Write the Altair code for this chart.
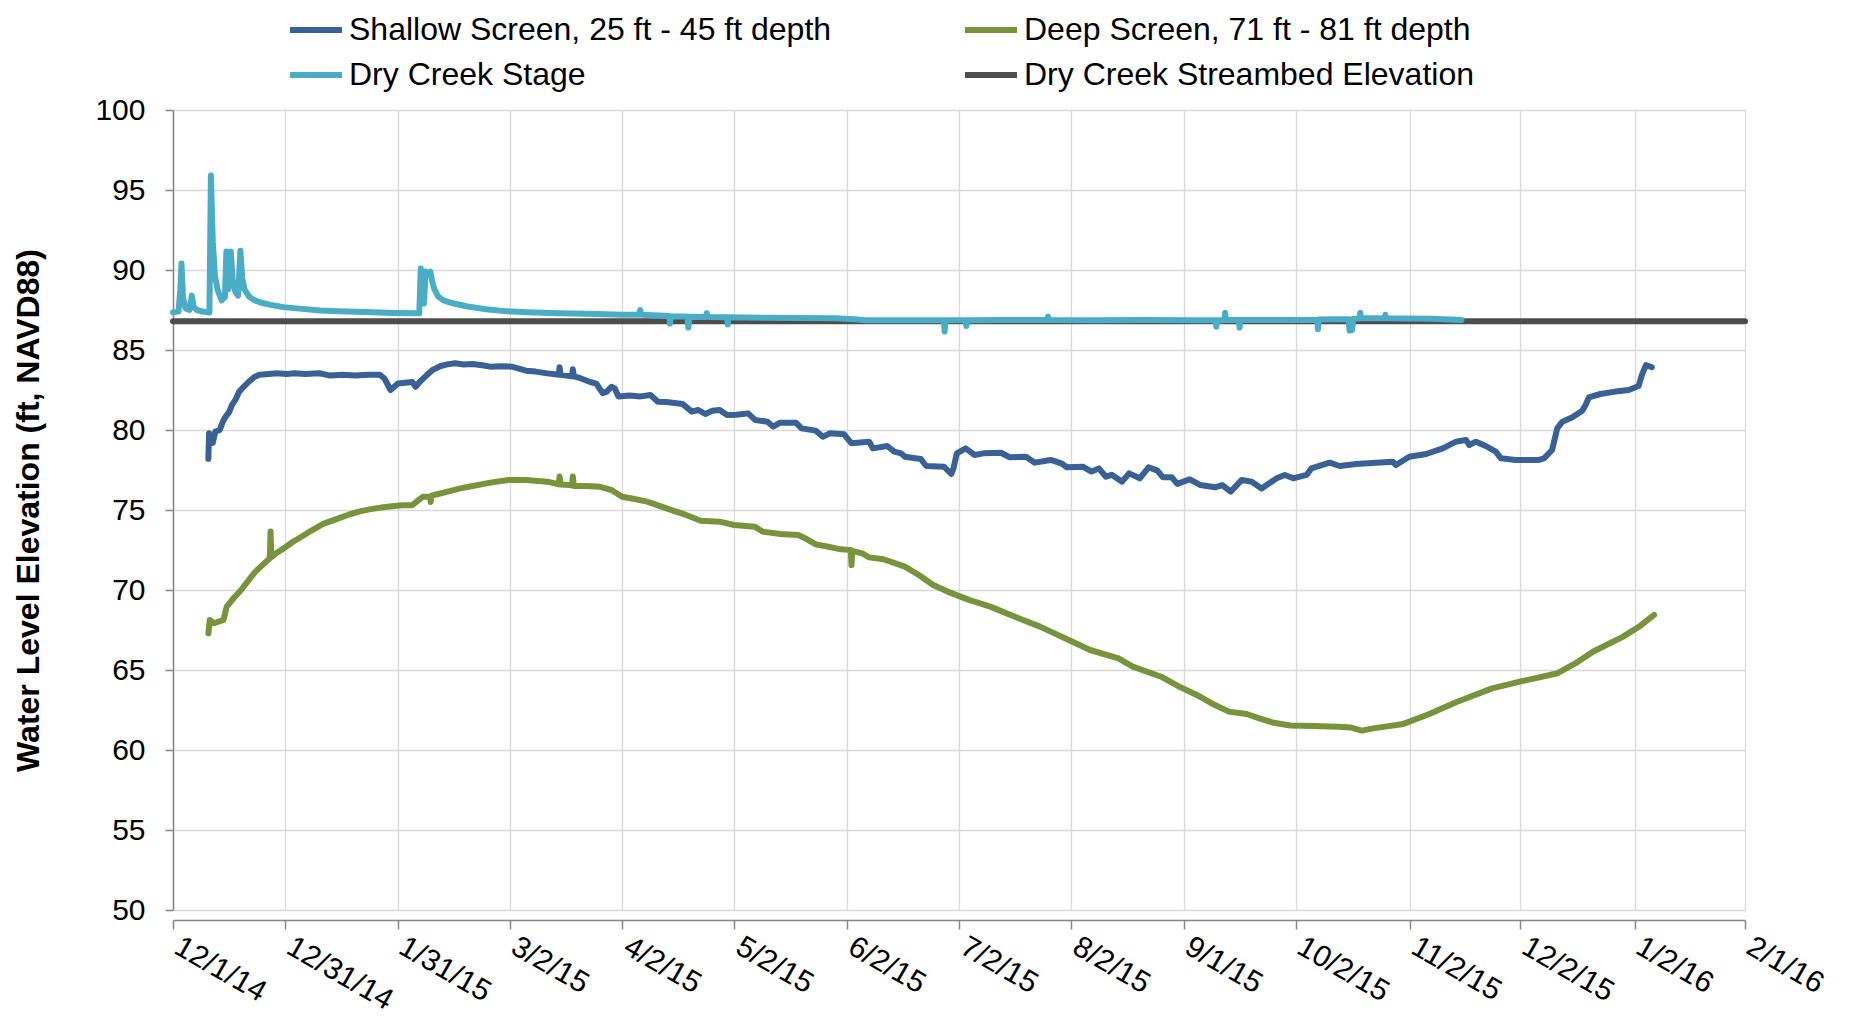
import altair as alt
import pandas as pd

# ---------------- data ----------------
START_DATE = "2014-12-01"

SERIES = [
    "Shallow Screen, 25 ft - 45 ft depth",
    "Deep Screen, 71 ft - 81 ft depth",
    "Dry Creek Stage",
    "Dry Creek Streambed Elevation",
]

# (days since 12/1/14, water level elevation ft NAVD88)
shallow_readings = [
    (9.6, 78.2), (9.8, 79.8), (10.3, 79.3), (10.8, 79.2), (11.5, 79.9), (12.7, 80.0),
    (13.5, 80.5), (14.2, 80.8), (15.2, 81.1), (16.1, 81.6), (17.0, 81.9), (18.0, 82.4),
    (19.2, 82.7), (20.5, 83.0), (22.0, 83.3), (23.4, 83.45), (26.0, 83.5), (28.2, 83.55),
    (31.0, 83.5), (33.0, 83.55), (36.0, 83.5), (39.8, 83.55), (42.7, 83.4), (46.0, 83.45),
    (49.5, 83.4), (53.0, 83.45), (56.2, 83.45), (57.5, 83.2), (59.1, 82.5), (61.1, 82.9),
    (63.0, 82.95), (65.0, 83.0), (65.9, 82.7), (67.0, 83.0), (68.8, 83.4), (70.5, 83.75),
    (72.7, 84.0), (74.5, 84.1), (76.6, 84.17), (79.0, 84.1), (81.4, 84.13), (84.0, 84.05),
    (86.2, 83.96), (89.0, 83.98), (92.0, 83.96), (95.9, 83.71), (98.5, 83.65), (101.7, 83.54),
    (104.8, 83.45), (105.0, 83.92), (105.3, 83.45), (108.4, 83.35), (108.6, 83.8), (108.9, 83.35),
    (110.5, 83.25), (113.3, 83.0), (115.0, 82.9), (116.7, 82.3), (117.8, 82.4), (119.1, 82.7),
    (120.0, 82.6), (121.0, 82.1), (124.0, 82.15), (127.0, 82.1), (129.7, 82.19), (131.7, 81.77),
    (134.0, 81.75), (138.4, 81.63), (140.9, 81.15), (142.7, 81.25), (144.6, 81.0), (146.5, 81.2),
    (148.5, 81.25), (150.5, 80.94), (153.0, 80.95), (156.2, 81.04), (158.1, 80.63), (161.5, 80.52),
    (163.0, 80.21), (164.9, 80.46), (169.2, 80.46), (170.7, 80.1), (174.6, 79.96), (176.5, 79.58),
    (178.4, 79.79), (182.3, 79.73), (184.3, 79.17), (189.1, 79.27), (190.1, 78.85), (194.0, 79.0),
    (195.9, 78.65), (197.8, 78.54), (198.8, 78.33), (203.1, 78.19), (204.6, 77.75), (209.4, 77.71),
    (211.4, 77.25), (212.0, 77.6), (212.9, 78.54), (215.3, 78.85), (217.7, 78.44), (220.1, 78.54),
    (224.9, 78.58), (227.3, 78.29), (231.7, 78.33), (234.1, 77.96), (238.4, 78.13), (241.3, 77.92),
    (242.8, 77.67), (247.1, 77.71), (249.5, 77.4), (251.5, 77.6), (253.4, 77.08), (255.0, 77.2),
    (257.8, 76.77), (259.7, 77.29), (262.6, 76.98), (265.0, 77.67), (267.4, 77.46), (268.9, 77.04),
    (271.3, 77.04), (272.8, 76.63), (276.2, 76.92), (279.1, 76.56), (283.0, 76.42), (285.0, 76.56),
    (287.3, 76.15), (290.3, 76.88), (293.0, 76.77), (295.7, 76.35), (299.8, 76.98), (302.0, 77.19),
    (304.3, 76.98), (307.9, 77.19), (309.2, 77.6), (314.2, 77.96), (316.9, 77.75), (321.4, 77.88),
    (326.8, 77.96), (331.3, 78.02), (332.2, 77.81), (335.8, 78.33), (340.4, 78.5), (344.9, 78.85),
    (348.5, 79.27), (351.2, 79.38), (352.1, 79.06), (353.9, 79.27), (356.6, 79.0), (359.3, 78.65),
    (360.7, 78.23), (364.7, 78.13), (371.0, 78.13), (372.4, 78.23), (374.6, 78.75), (376.0, 80.1),
    (377.4, 80.52), (380.1, 80.79), (382.8, 81.21), (383.7, 81.56), (384.6, 82.04), (387.7, 82.25),
    (391.8, 82.4), (395.4, 82.5), (398.1, 82.75), (399.0, 83.44), (400.1, 84.06), (401.7, 83.92),
]

deep_readings = [
    (9.6, 67.29), (10.0, 68.13), (11.2, 67.92), (13.7, 68.13), (14.6, 68.96), (16.5, 69.5),
    (18.5, 70.0), (20.5, 70.6), (22.4, 71.15), (24.5, 71.6), (26.3, 71.98), (26.5, 73.65),
    (26.7, 72.05), (28.0, 72.3), (30.1, 72.6), (32.5, 73.0), (34.9, 73.33), (37.5, 73.7),
    (40.8, 74.13), (44.0, 74.4), (47.5, 74.69), (50.5, 74.9), (53.3, 75.04), (56.5, 75.15),
    (60.1, 75.25), (62.5, 75.3), (65.0, 75.3), (67.9, 75.83), (69.8, 75.85), (70.0, 75.5),
    (70.2, 75.9), (72.0, 76.0), (74.6, 76.15), (78.0, 76.35), (81.4, 76.5), (86.2, 76.71),
    (91.1, 76.88), (95.9, 76.88), (101.7, 76.77), (104.8, 76.6), (105.0, 77.1), (105.3, 76.6),
    (108.4, 76.55), (108.6, 77.1), (108.9, 76.5), (112.3, 76.5), (116.0, 76.45), (119.1, 76.25),
    (122.0, 75.83), (125.0, 75.7), (128.8, 75.52), (132.7, 75.21), (136.0, 74.95), (139.4, 74.69),
    (143.3, 74.33), (148.5, 74.27), (152.4, 74.06), (158.1, 73.96), (160.1, 73.65), (165.0, 73.5),
    (169.8, 73.44), (172.0, 73.2), (174.6, 72.85), (178.0, 72.7), (181.4, 72.54), (184.1, 72.5),
    (184.3, 71.56), (184.5, 72.45), (187.2, 72.29), (189.1, 72.04), (193.0, 71.92), (198.8, 71.46),
    (202.6, 70.94), (206.5, 70.31), (210.4, 69.9), (216.2, 69.38), (222.0, 68.96), (229.7, 68.23),
    (235.5, 67.71), (243.3, 66.88), (249.1, 66.25), (256.8, 65.73), (260.7, 65.21), (268.4, 64.58),
    (273.3, 63.96), (278.1, 63.44), (283.0, 62.81), (286.8, 62.4), (291.6, 62.25), (295.5, 61.95),
    (299.0, 61.7), (303.5, 61.53), (310.0, 61.5), (316.4, 61.46), (320.0, 61.4), (322.9, 61.21),
    (326.0, 61.35), (329.3, 61.46), (334.2, 61.63), (340.6, 62.19), (348.7, 63.0), (358.3, 63.85),
    (366.4, 64.3), (376.1, 64.8), (380.9, 65.41), (385.8, 66.16), (393.8, 67.07), (398.6, 67.77),
    (402.3, 68.44),
]

stage_readings = [
    (0.0, 87.35), (1.5, 87.4), (2.0, 88.8), (2.3, 90.4), (2.7, 88.3), (3.4, 87.6),
    (4.5, 87.5), (5.1, 88.4), (5.6, 87.7), (6.5, 87.5), (8.0, 87.4), (9.9, 87.35),
    (10.3, 95.9), (10.8, 91.8), (11.4, 89.6), (12.2, 88.7), (13.2, 88.1), (14.1, 88.3),
    (14.5, 91.15), (15.0, 88.8), (15.7, 91.15), (16.2, 89.4), (16.9, 88.65), (17.7, 88.4),
    (18.3, 91.2), (18.8, 89.5), (19.4, 88.8), (20.6, 88.35), (22.2, 88.1), (24.0, 87.95),
    (26.5, 87.82), (30.0, 87.68), (35.0, 87.57), (40.0, 87.47), (45.0, 87.42), (52.0, 87.37),
    (60.0, 87.32), (66.9, 87.3), (67.3, 90.1), (67.7, 89.0), (68.2, 87.9), (68.6, 89.9),
    (69.3, 89.75), (69.9, 89.9), (70.5, 89.2), (71.0, 88.8), (72.0, 88.35), (73.5, 88.1),
    (76.0, 87.92), (80.0, 87.72), (85.0, 87.55), (90.0, 87.43), (96.0, 87.36), (105.0, 87.3),
    (115.0, 87.25), (122.0, 87.2), (126.6, 87.2), (126.9, 87.5), (127.2, 87.2), (132.0, 87.15),
    (134.8, 87.12), (135.0, 86.65), (135.2, 87.1), (139.7, 87.1), (140.0, 86.4), (140.3, 87.08),
    (144.7, 87.07), (145.0, 87.3), (145.3, 87.06), (150.5, 87.05), (150.7, 86.6), (150.9, 87.04),
    (160.0, 87.02), (170.0, 87.0), (180.0, 86.98), (185.0, 86.92), (188.0, 86.86), (195.0, 86.86),
    (205.0, 86.86), (209.4, 86.86), (209.6, 86.15), (209.8, 86.86), (215.3, 86.86), (215.5, 86.5),
    (215.7, 86.86), (225.0, 86.87), (237.5, 86.87), (237.7, 87.08), (237.9, 86.87), (250.0, 86.86),
    (265.0, 86.87), (275.0, 86.86), (283.2, 86.86), (283.4, 86.45), (283.6, 86.86), (285.6, 86.86),
    (285.8, 87.33), (286.0, 86.87), (289.5, 86.87), (289.7, 86.4), (289.9, 86.87), (300.0, 86.87),
    (310.8, 86.88), (311.0, 86.3), (311.2, 86.9), (316.0, 86.92), (319.3, 86.92), (319.6, 86.2),
    (319.9, 86.9), (320.3, 86.25), (320.6, 86.95), (322.3, 86.97), (322.5, 87.33), (322.7, 86.98),
    (326.0, 86.98), (329.1, 86.98), (329.3, 87.2), (329.5, 86.98), (335.0, 86.97), (342.0, 86.95),
    (350.0, 86.88),
]

streambed_readings = [(0.0, 86.8), (427.0, 86.8)]

x_tick_dates = [
    "2014-12-01 00:00", "2014-12-31 12:00", "2015-01-31 00:00", "2015-03-02 12:00",
    "2015-04-02 00:00", "2015-05-02 12:00", "2015-06-02 00:00", "2015-07-02 12:00",
    "2015-08-02 00:00", "2015-09-01 12:00", "2015-10-02 00:00", "2015-11-02 00:00",
    "2015-12-02 00:00", "2016-01-02 00:00", "2016-02-01 00:00",
]
y_ticks = [50, 55, 60, 65, 70, 75, 80, 85, 90, 95, 100]

# ---------------- styles ----------------
COLORS = ["#3A6195", "#77933C", "#4BACC6", "#4D4D4D"]
LINE_WIDTHS = [6, 6, 6.5, 9.5]
FONT = "Liberation Sans"
AXIS_GRAY = "#868686"
GRID_GRAY = "#D9D9D9"

# ---------------- build table ----------------
frames = []
for name, readings in zip(SERIES, [shallow_readings, deep_readings, stage_readings, streambed_readings]):
    f = pd.DataFrame(readings, columns=["day", "value"])
    f["date"] = pd.Timestamp(START_DATE) + pd.to_timedelta(f["day"], unit="D")
    f["series"] = name
    frames.append(f[["date", "value", "series"]])
df = pd.concat(frames, ignore_index=True)


def to_dt(s):
    t = pd.Timestamp(s)
    return alt.DateTime(year=t.year, month=t.month, date=t.day, hours=t.hour)


x_values = [to_dt(s) for s in x_tick_dates]

x_enc = alt.X(
    "date:T",
    scale=alt.Scale(domain=[x_values[0], x_values[-1]], nice=False),
    axis=alt.Axis(
        values=x_values, format="%-m/%-d/%y", title=None,
        labelAngle=30, labelAlign="left", labelBaseline="top",
        labelFont=FONT, labelFontSize=30, labelColor="#000000",
        labelPadding=2, labelOffset=11, labelOverlap=False, labelFlush=False, labelBound=False,
        tickSize=9, tickColor=AXIS_GRAY, tickWidth=1.5,
        domainColor=AXIS_GRAY, domainWidth=1.5, offset=10,
        grid=True, gridColor=GRID_GRAY, gridWidth=1.3,
    ),
)
y_enc = alt.Y(
    "value:Q",
    scale=alt.Scale(domain=[50, 100], nice=False, zero=False),
    axis=alt.Axis(
        values=y_ticks, title="Water Level Elevation (ft, NAVD88)",
        titleFont=FONT, titleFontSize=32, titleFontWeight="bold", titleColor="#000000",
        titleAngle=270, titleX=-135, titleY=400, titleAlign="center", titleBaseline="alphabetic",
        labelFont=FONT, labelFontSize=30, labelColor="#000000", labelPadding=20,
        tickSize=8, tickColor=AXIS_GRAY, tickWidth=1.5,
        domainColor=AXIS_GRAY, domainWidth=1.5,
        grid=True, gridColor=GRID_GRAY, gridWidth=1.3,
    ),
)

legend = alt.Legend(
    title=None, orient="none", legendX=114, legendY=-109, columns=2, direction="horizontal",
    symbolType="stroke", symbolSize=2700,
    labelFont=FONT, labelFontSize=32, labelColor="#000000", labelLimit=1000,
    labelOffset=4, columnPadding=121, rowPadding=-4, padding=0,
)

color_enc = alt.Color("series:N", scale=alt.Scale(domain=SERIES, range=COLORS), legend=legend)
width_enc = alt.StrokeWidth("series:N", scale=alt.Scale(domain=SERIES, range=LINE_WIDTHS), legend=legend)

layers = []
for name in [SERIES[3], SERIES[0], SERIES[1], SERIES[2]]:
    layers.append(
        alt.Chart(df)
        .transform_filter(alt.datum.series == name)
        .mark_line(strokeCap="round", strokeJoin="round")
        .encode(x=x_enc, y=y_enc, color=color_enc, strokeWidth=width_enc)
    )

chart = (
    alt.layer(*layers)
    .properties(
        width=1572, height=800,
        padding={"left": 165, "top": 102, "right": 90, "bottom": 108},
        autosize=alt.AutoSizeParams(type="none"),
    )
    .configure_view(stroke="#9A9A9A", strokeWidth=1.5)
    .configure(background="white")
)

chart.save("out.html", embed_options={"renderer": "svg", "actions": False})
